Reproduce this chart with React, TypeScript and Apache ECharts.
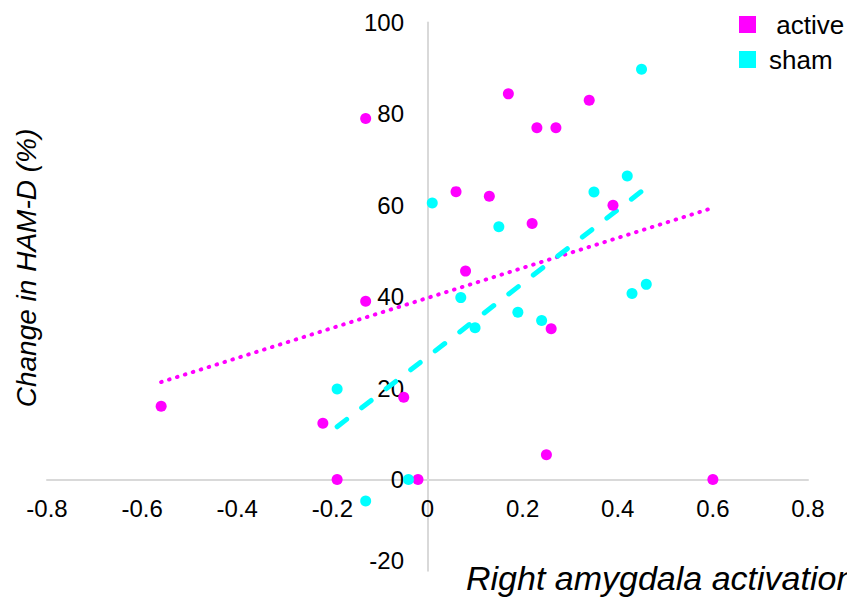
import React, { useEffect, useRef } from "react";
import * as echarts from "echarts";

const activeX = [-0.13, -0.13, 0.17, 0.23, 0.27, 0.34, 0.06, 0.13, 0.22, 0.39, 0.08, -0.56, -0.22, -0.05, -0.19, -0.02, 0.26, 0.25, 0.6];
const activeY = [79, 39, 84.4, 77, 77, 83, 63, 62, 56, 60, 45.6, 16, 12.3, 18, 0, 0, 33, 5.4, 0];
const shamX = [0.01, 0.45, 0.42, 0.35, 0.15, 0.07, 0.1, 0.19, 0.24, 0.43, 0.46, -0.19, -0.04, -0.13];
const shamY = [60.5, 89.8, 66.4, 62.9, 55.3, 39.8, 33.2, 36.6, 34.8, 40.7, 42.7, 19.8, 0, -4.7];

const seriesNames = ["active", "sham"];
const xTitle = "Right amygdala activation";
const yTitle = "Change in HAM-D (%)";

const MAGENTA = "#ff00ff";
const CYAN = "#00ffff";
const FONT = "'Liberation Sans', Arial, sans-serif";

function pairs(xs: number[], ys: number[]) {
  return xs.map((x, i) => [x, ys[i]]);
}

function trend(xs: number[], ys: number[]) {
  const n = xs.length;
  const mx = xs.reduce((a, b) => a + b, 0) / n;
  const my = ys.reduce((a, b) => a + b, 0) / n;
  let sxy = 0;
  let sxx = 0;
  for (let i = 0; i < n; i++) {
    sxy += (xs[i] - mx) * (ys[i] - my);
    sxx += (xs[i] - mx) * (xs[i] - mx);
  }
  const b = sxy / sxx;
  const a = my - b * mx;
  const x0 = Math.min(...xs);
  const x1 = Math.max(...xs);
  return [
    [x0, a + b * x0],
    [x1, a + b * x1],
  ];
}

export default function App() {
  const ref = useRef<HTMLDivElement>(null);
  useEffect(() => {
    if (!ref.current) return;
    const chart = echarts.init(ref.current, null, { renderer: "svg" });
    chart.setOption({
      animation: false,
      backgroundColor: "#ffffff",
      grid: {
        left: 47,
        right: 39,
        top: 22.6,
        bottom: 28.2,
        containLabel: false,
        outerBoundsMode: "none",
      },
      legend: {
        data: seriesNames,
        orient: "vertical",
        left: 739,
        top: 11.5,
        padding: 0,
        icon: "rect",
        itemWidth: 17,
        itemHeight: 17,
        itemGap: 9,
        formatter: (name: string) => (name === "active" ? " " + name : name),
        textStyle: {
          fontFamily: FONT,
          fontSize: 26,
          lineHeight: 26,
          color: "#000",
          padding: [0, 0, 0, 8],
        },
      },
      xAxis: {
        type: "value",
        min: -0.8,
        max: 0.8,
        interval: 0.2,
        axisLine: { onZero: true, lineStyle: { color: "#d9d9d9", width: 2 } },
        axisTick: { show: false },
        splitLine: { show: false },
        axisLabel: {
          margin: -74,
          fontFamily: FONT,
          fontSize: 24,
          color: "#000",
          formatter: (v: number) => String(Math.round(v * 10) / 10),
        },
      },
      yAxis: {
        type: "value",
        min: -20,
        max: 100,
        interval: 20,
        axisLine: { show: true, onZero: true, lineStyle: { color: "#d9d9d9", width: 2 } },
        axisTick: { show: false },
        splitLine: { show: false },
        axisLabel: {
          margin: -357,
          fontFamily: FONT,
          fontSize: 24,
          color: "#000",
          formatter: (v: number) => (v < 0 ? `{low|${v}}` : String(v)),
          rich: {
            low: {
              fontFamily: FONT,
              fontSize: 24,
              color: "#000",
              padding: [0, 0, 20, 0],
            },
          },
        },
      },
      graphic: [
        {
          type: "text",
          x: 466,
          y: 578,
          style: {
            text: xTitle,
            font: `italic 34px ${FONT}`,
            fill: "#000",
            align: "left",
            verticalAlign: "middle",
          },
        },
        {
          type: "text",
          x: 26,
          y: 268,
          rotation: Math.PI / 2,
          style: {
            text: yTitle,
            font: `italic 28px ${FONT}`,
            fill: "#000",
            align: "center",
            verticalAlign: "middle",
          },
        },
      ],
      series: [
        {
          name: "active trend",
          type: "line",
          data: trend(activeX, activeY),
          symbol: "none",
          lineStyle: { color: MAGENTA, width: 4, type: [0.5, 7.8], cap: "round" },
          z: 1,
        },
        {
          name: "sham trend",
          type: "line",
          data: trend(shamX, shamY),
          symbol: "none",
          lineStyle: { color: CYAN, width: 5, type: [12, 19], cap: "round" },
          z: 1,
        },
        {
          name: "active",
          type: "scatter",
          data: pairs(activeX, activeY),
          symbol: "circle",
          symbolSize: 11,
          itemStyle: { color: MAGENTA, opacity: 1 },
          z: 3,
        },
        {
          name: "sham",
          type: "scatter",
          data: pairs(shamX, shamY),
          symbol: "circle",
          symbolSize: 11,
          itemStyle: { color: CYAN, opacity: 1 },
          z: 3,
        },
      ],
    });
    return () => chart.dispose();
  }, []);
  return (
    <div
      ref={ref}
      style={{ position: "fixed", left: 0, top: 0, width: 847, height: 599, background: "#fff" }}
    />
  );
}
